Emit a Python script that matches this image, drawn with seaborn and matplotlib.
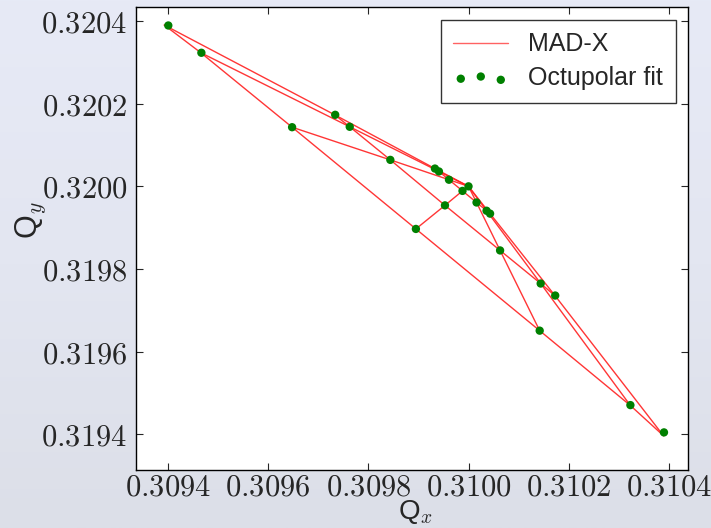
"""Tune footprint: MAD-X tracking vs octupolar detuning fit."""
import matplotlib
matplotlib.use("Agg")
import matplotlib.pyplot as plt
import numpy as np
import pandas as pd
import seaborn as sns
from matplotlib.colors import LinearSegmentedColormap
from matplotlib.lines import Line2D

# amplitude levels (rows) x angles 0..90 deg in 15 deg steps (columns)
ANGLES_DEG = [0, 15, 30, 45, 60, 75, 90]
ORIGIN_QX = 0.310000
ORIGIN_QY = 0.320000

FIT_QX = [
    [0.309933, 0.309941, 0.309961, 0.309988, 0.310016, 0.310036, 0.310043],
    [0.309734, 0.309763, 0.309844, 0.309953, 0.310063, 0.310144, 0.310173],
    [0.309401, 0.309467, 0.309648, 0.309895, 0.310142, 0.310323, 0.310390],
]
FIT_QY = [
    [0.320043, 0.320036, 0.320016, 0.319989, 0.319961, 0.319941, 0.319934],
    [0.320173, 0.320144, 0.320064, 0.319954, 0.319845, 0.319765, 0.319736],
    [0.320389, 0.320323, 0.320143, 0.319897, 0.319651, 0.319471, 0.319405],
]
MADX_QX = [
    [0.309933, 0.309941, 0.309961, 0.309988, 0.310016, 0.310036, 0.310043],
    [0.309733, 0.309763, 0.309844, 0.309953, 0.310063, 0.310144, 0.310173],
    [0.309393, 0.309466, 0.309648, 0.309895, 0.310142, 0.310323, 0.310389],
]
MADX_QY = [
    [0.320043, 0.320036, 0.320016, 0.319989, 0.319961, 0.319941, 0.319934],
    [0.320173, 0.320144, 0.320064, 0.319954, 0.319845, 0.319765, 0.319735],
    [0.320390, 0.320323, 0.320143, 0.319897, 0.319651, 0.319470, 0.319397],
]

X_TICKS = [0.3094, 0.3096, 0.3098, 0.3100, 0.3102, 0.3104]
Y_TICKS = [0.3194, 0.3196, 0.3198, 0.3200, 0.3202, 0.3204]


def _segments() -> pd.DataFrame:
    rows = []
    seg = 0
    # rays: origin -> increasing amplitude, one per angle
    for j in range(len(ANGLES_DEG)):
        rows.append((seg, ORIGIN_QX, ORIGIN_QY))
        for i in range(len(MADX_QX)):
            rows.append((seg, MADX_QX[i][j], MADX_QY[i][j]))
        seg += 1
    # constant-amplitude lines across angles
    for i in range(len(MADX_QX)):
        for j in range(len(ANGLES_DEG)):
            rows.append((seg, MADX_QX[i][j], MADX_QY[i][j]))
        seg += 1
    return pd.DataFrame(rows, columns=["seg", "qx", "qy"])


def _fit_points() -> pd.DataFrame:
    qx = [ORIGIN_QX] + [v for row in FIT_QX for v in row]
    qy = [ORIGIN_QY] + [v for row in FIT_QY for v in row]
    return pd.DataFrame({"qx": qx, "qy": qy})


def main() -> None:
    sns.set_style("ticks")
    plt.rcParams["font.family"] = ["Liberation Sans", "DejaVu Sans"]
    plt.rcParams["mathtext.fontset"] = "cm"

    fig = plt.figure(figsize=(7.11, 5.28), dpi=100)

    # slide-like background gradient
    bg = fig.add_axes([0, 0, 1, 1], zorder=-10)
    grad = np.linspace(0, 1, 256)[:, None]
    cmap = LinearSegmentedColormap.from_list("bg", ["#e7eaf6", "#e3e6f1", "#dcdfe8"])
    bg.imshow(grad, aspect="auto", cmap=cmap, extent=[0, 1, 0, 1])
    bg.axis("off")

    ax = fig.add_axes([0.1909, 0.1098, 0.7768, 0.8764])
    ax.set_facecolor("white")

    segs = _segments()
    sns.lineplot(data=segs, x="qx", y="qy", units="seg", estimator=None, sort=False,
                 color="#ff2020", linewidth=1.0, alpha=0.9, ax=ax, legend=False)
    pts = _fit_points()
    sns.scatterplot(data=pts, x="qx", y="qy", color="green", s=36, edgecolor="none",
                    ax=ax, legend=False, zorder=3)

    ax.set_xlim(0.309336, 0.310438)
    ax.set_ylim(0.319314, 0.320433)
    ax.set_xticks(X_TICKS)
    ax.set_yticks(Y_TICKS)
    ax.set_xticklabels([f"${t:.4f}$" for t in X_TICKS], fontsize=22)
    ax.set_yticklabels([f"${t:.4f}$" for t in Y_TICKS], fontsize=22)
    ax.tick_params(direction="in", length=5, width=0.8, top=True, right=True, pad=6)
    ax.tick_params(axis="x", pad=2)
    for sp in ax.spines.values():
        sp.set_color("black")
        sp.set_linewidth(1.0)

    ax.set_xlabel(r"Q$_x$", fontsize=20, va="bottom")
    ax.set_ylabel(r"Q$_y$", fontsize=22, va="center")
    ax.xaxis.set_label_coords(0.506, -0.122)
    ax.yaxis.set_label_coords(-0.191, 0.54)

    handles = [
        Line2D([], [], color="#ff2020", alpha=0.7, linewidth=1.0),
        ax.scatter([], [], color="green", s=36, edgecolor="none"),
    ]
    leg = ax.legend(handles, ["MAD-X", "Octupolar fit"], loc="upper right",
                    scatterpoints=3, fontsize=18, frameon=True, fancybox=False,
                    borderaxespad=0.5, handlelength=2.2, borderpad=0.5,
                    labelspacing=0.4)
    leg.get_frame().set_edgecolor("black")
    leg.get_frame().set_linewidth(1.0)

    fig.savefig("out.png", dpi=100)
    plt.close(fig)


if __name__ == "__main__":
    main()
